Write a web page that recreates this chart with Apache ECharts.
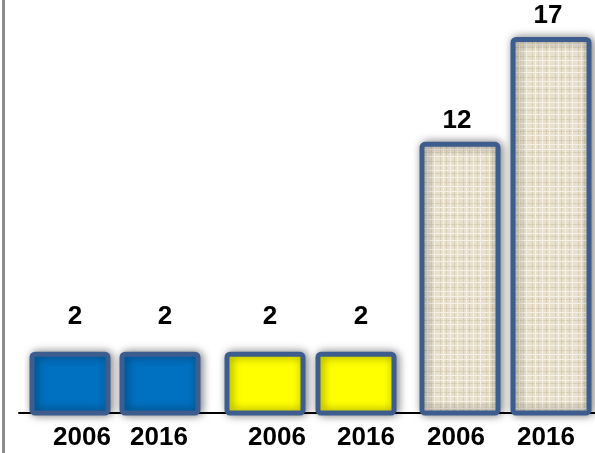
<!DOCTYPE html>
<html>
<head>
<meta charset="utf-8">
<script src="https://cdn.jsdelivr.net/npm/echarts@6/dist/echarts.min.js"></script>
<style>
  html, body { margin: 0; padding: 0; background: #fff; }
  #chart { width: 595px; height: 453px; }
</style>
</head>
<body>
<div id="chart"></div>
<script>
// chart data
var years = ['2006', '2016', '2006', '2016', '2006', '2016'];
var values = [2, 2, 2, 2, 12, 17];

// linen-like texture for the last two bars
function makeLinen() {
  var c = document.createElement('canvas');
  c.width = 23;
  c.height = 21;
  var ctx = c.getContext('2d');
  ctx.fillStyle = '#e8dfcc';
  ctx.fillRect(0, 0, 23, 21);
  ctx.fillStyle = '#d8cdb5';
  [3, 9, 17].forEach(function (p) { ctx.fillRect(p, 0, 1, 21); });
  [5, 14].forEach(function (p) { ctx.fillRect(0, p, 23, 1); });
  ctx.fillStyle = '#f6f1e6';
  [6, 13, 20].forEach(function (p) { ctx.fillRect(p, 0, 1, 21); });
  [2, 9, 18].forEach(function (p) { ctx.fillRect(0, p, 23, 1); });
  return c;
}
var linen = { image: makeLinen(), repeat: 'repeat' };

var fills = ['#0070c0', '#0070c0', '#ffff00', '#ffff00', linen, linen];
// pixel nudges so the bars sit in pairs like the original
var barShift = [3, -3, 6, 1, 9, 4];
var labelGap = [22, 22, 22, 22, 8, 8];
var labelShift = [15, -4, 18, 11, 5, -1];
var yMin = -0.8;

var chart = echarts.init(document.getElementById('chart'));

var option = {
  animation: false,
  grid: { left: 19, right: 0, top: 10, bottom: 40 },
  graphic: [
    { type: 'rect', shape: { x: 2, y: 0, width: 3, height: 453 }, style: { fill: '#8c8c8c' } }
  ],
  xAxis: {
    type: 'category',
    data: years.map(function (y, i) {
      var s = labelShift[i];
      return {
        value: y,
        textStyle: { padding: s >= 0 ? [0, 0, 0, 2 * s] : [0, -2 * s, 0, 0] }
      };
    }),
    axisTick: { show: false },
    axisLine: { onZero: false, lineStyle: { color: '#000', width: 2 } },
    axisLabel: {
      color: '#000',
      fontFamily: 'Liberation Sans',
      fontWeight: 'bold',
      fontSize: 26,
      margin: 12,
      interval: 0
    }
  },
  yAxis: {
    type: 'value',
    show: false,
    min: yMin,
    max: 18.4,
    splitLine: { show: false }
  },
  series: [{
    type: 'custom',
    data: values.map(function (v, i) { return [i, v]; }),
    renderItem: function (params, api) {
      var i = api.value(0);
      var v = api.value(1);
      var base = api.coord([i, yMin]);
      var top = api.coord([i, v]);
      var cx = top[0] + barShift[i];
      var w = 76;
      return {
        type: 'group',
        children: [{
          type: 'rect',
          shape: { x: cx - w / 2, y: top[1], width: w, height: base[1] - top[1], r: 3 },
          style: {
            fill: fills[i],
            stroke: '#3c5d8d',
            lineWidth: 5,
            shadowBlur: 10,
            shadowColor: 'rgba(0,0,0,0.45)',
            shadowOffsetX: 2,
            shadowOffsetY: 0
          }
        }, {
          type: 'text',
          x: cx + (i < 4 ? 5 : -3),
          y: top[1] - 2.5 - labelGap[i],
          style: {
            text: String(v),
            fill: '#000',
            font: 'bold 26px "Liberation Sans"',
            align: 'center',
            verticalAlign: 'bottom'
          }
        }]
      };
    }
  }]
};

chart.setOption(option);
</script>
</body>
</html>
